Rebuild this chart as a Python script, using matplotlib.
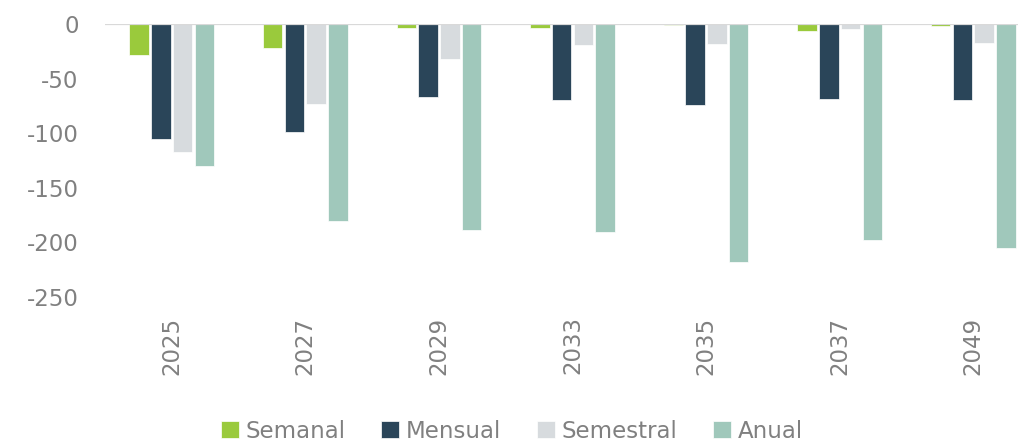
import matplotlib
matplotlib.use("Agg")
import matplotlib.pyplot as plt
import numpy as np

years = ["2025", "2027", "2029", "2033", "2035", "2037", "2049"]
semanal = [-28, -22, -4, -4, -1, -6, -2]
mensual = [-105, -99, -67, -70, -74, -69, -69.5]
semestral = [-117, -73, -32, -19, -18, -5, -17.5]
anual = [-130, -180, -189, -190.5, -218, -198, -205.5]

series = [("Semanal", semanal, "#9ACA3C"),
          ("Mensual", mensual, "#2A4559"),
          ("Semestral", semestral, "#D7DBDE"),
          ("Anual", anual, "#A0C8BB")]

plt.rcParams['font.family'] = ['DejaVu Sans']
W, H = 1018, 442
fig = plt.figure(figsize=(W / 100, H / 100), dpi=100)
ax = fig.add_axes([105 / W, 1 - 297 / H, 935 / W, 273 / H])

x = np.arange(len(years))
bw = 0.146
step = 0.163
for i, (name, vals, col) in enumerate(series):
    ax.bar(x + (i - 1.5) * step, vals, bw, color=col, label=name,
           edgecolor="white", linewidth=0.5, zorder=2)

ax.axhline(0, color="#D9D9D9", linewidth=1.6, zorder=3)
ax.set_xlim(-0.5, len(years) - 0.5)
ax.set_ylim(-250, 0)
ax.set_yticks([0, -50, -100, -150, -200, -250])
ax.set_yticklabels(["0", "-50", "-100", "-150", "-200", "-250"])
ax.set_xticks(x)
ax.set_xticklabels(years, rotation=90)
ax.tick_params(axis="both", length=0, colors="#808080", labelsize=16.5)
ax.tick_params(axis="x", pad=14)
ax.tick_params(axis="y", pad=19)
for s in ax.spines.values():
    s.set_visible(False)

leg = fig.legend(loc="center", bbox_to_anchor=(512 / W, 1 - 431 / H), ncol=4,
                 frameon=False, fontsize=16.5, handlelength=0.78, handleheight=0.78,
                 handletextpad=0.3, columnspacing=1.55, borderaxespad=0)
for t in leg.get_texts():
    t.set_color("#808080")

fig.savefig("out.png", dpi=100)
